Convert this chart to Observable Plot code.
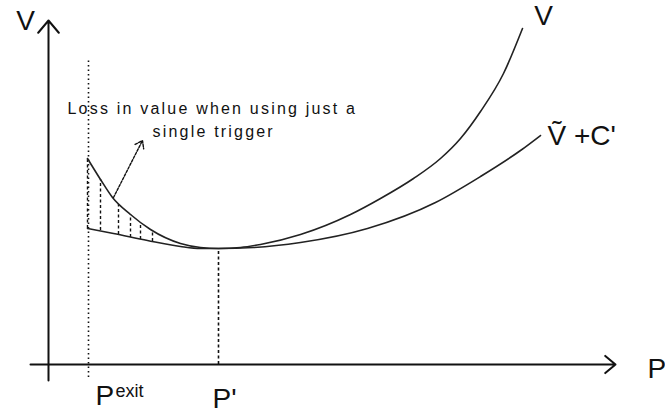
<!DOCTYPE html>
<html>
<head>
<meta charset="utf-8">
<script src="https://cdn.jsdelivr.net/npm/d3@7"></script>
<script src="https://cdn.jsdelivr.net/npm/@observablehq/plot@0.6"></script>
<style>
  html, body { margin: 0; padding: 0; background: #fff; }
</style>
</head>
<body>
<div id="chart"></div>
<script>
// Upper curve V (price P, value V) in schematic units from the origin
const upperP = [39, 52, 64, 82, 102, 132, 152, 170, 192, 212, 252, 302, 332, 365, 392, 412, 432, 455, 474];
const upperV = [206, 185, 167, 150, 135, 121, 117, 116, 117, 120, 130, 150, 166, 186, 206, 226, 253, 291, 336];
// Lower curve V~ + C'
const lowerP = [39, 65, 99, 132, 152, 170, 205, 252, 319, 387, 432, 472, 492];
const lowerV = [136, 131, 124, 118, 116, 116, 117, 122, 136, 162, 188, 214, 229];
// Hatching between the curves (loss area)
const hatchP = [39, 52, 70, 82, 92, 104];
const hatchLow = [136, 134, 130, 127, 125, 123];
const hatchHigh = [205, 185, 160, 150, 141, 134];
// Key levels
const pExit = 40;
const pPrime = 170;
const vMin = 116;
// Texts
const noteLines = ["Loss in value when using just a", "single trigger"];
const axisLabelY = "V";
const axisLabelX = "P";
const curveLabelV = "V";
const curveLabelW = "Ṽ +C'";
const pExitMain = "P";
const pExitSup = "exit";
const pPrimeLabel = "P'";

const upper = upperP.map((p, i) => ({p, v: upperV[i]}));
const lower = lowerP.map((p, i) => ({p, v: lowerV[i]}));
const hatch = hatchP.map((p, i) => ({p, lo: hatchLow[i], hi: hatchHigh[i]}));

const big = 28;
const font = "Liberation Sans, Arial, sans-serif";

const chart = Plot.plot({
  width: 665,
  height: 414,
  margin: 0,
  style: {background: "#fff", fontFamily: font},
  x: {domain: [-48, 617], axis: null},
  y: {domain: [-50, 364], axis: null},
  marks: [
    // axes with arrow heads
    Plot.arrow([0], {x1: 0, y1: -16, x2: 0, y2: 344, stroke: "#111", strokeWidth: 2, headLength: 12, headAngle: 80}),
    Plot.arrow([0], {x1: -18, y1: 0, x2: 567, y2: 0, stroke: "#111", strokeWidth: 2, headLength: 10, headAngle: 80}),
    // P exit dotted line
    Plot.ruleX([pExit], {x: d => d, y1: -13, y2: 304, stroke: "#111", strokeWidth: 1.6, strokeDasharray: "1.5,3"}),
    // P' dashed line
    Plot.ruleX([pPrime], {x: d => d, y1: 0, y2: vMin, stroke: "#111", strokeWidth: 1.6, strokeDasharray: "3,2.5"}),
    // hatching
    Plot.ruleX(hatch, {x: "p", y1: "lo", y2: "hi", stroke: "#111", strokeWidth: 1.4, strokeDasharray: "3,2.5"}),
    // curves
    Plot.line(upper, {x: "p", y: "v", curve: "monotone-x", stroke: "#222", strokeWidth: 1.6}),
    Plot.line(lower, {x: "p", y: "v", curve: "monotone-x", stroke: "#222", strokeWidth: 1.6}),
    // annotation arrow
    Plot.arrow([0], {x1: 65, y1: 167, x2: 94, y2: 224, stroke: "#111", strokeWidth: 1.4, strokeDasharray: "2.5,1.5", headLength: 9, headAngle: 70}),
    // annotation text
    Plot.text([noteLines[0]], {x: 19, y: 256, text: d => d, textAnchor: "start", fontSize: 16, fill: "#111"}),
    Plot.text([noteLines[1]], {x: 104, y: 233, text: d => d, textAnchor: "start", fontSize: 16, fill: "#111"}),
    // labels
    Plot.text([axisLabelY], {x: -23, y: 343, text: d => d, textAnchor: "middle", fontSize: big, fill: "#111"}),
    Plot.text([curveLabelV], {x: 495, y: 348, text: d => d, textAnchor: "middle", fontSize: big, fill: "#111"}),
    Plot.text([curveLabelW], {x: 499, y: 228, text: d => d, textAnchor: "start", fontSize: big, fill: "#111"}),
    Plot.text([axisLabelX], {x: 599, y: -5, text: d => d, textAnchor: "start", fontSize: big, fill: "#111"}),
    Plot.text([pExitMain], {x: 47, y: -32, text: d => d, textAnchor: "start", fontSize: big, fill: "#111"}),
    Plot.text([pExitSup], {x: 67, y: -27, text: d => d, textAnchor: "start", fontSize: 18, fill: "#111"}),
    Plot.text([pPrimeLabel], {x: 164, y: -35, text: d => d, textAnchor: "start", fontSize: big, fill: "#111"})
  ]
});
d3.select(chart).selectAll("text")
  .filter(function () { return noteLines.includes(this.textContent); })
  .attr("letter-spacing", "2.2px");
document.getElementById("chart").appendChild(chart);
</script>
</body>
</html>
